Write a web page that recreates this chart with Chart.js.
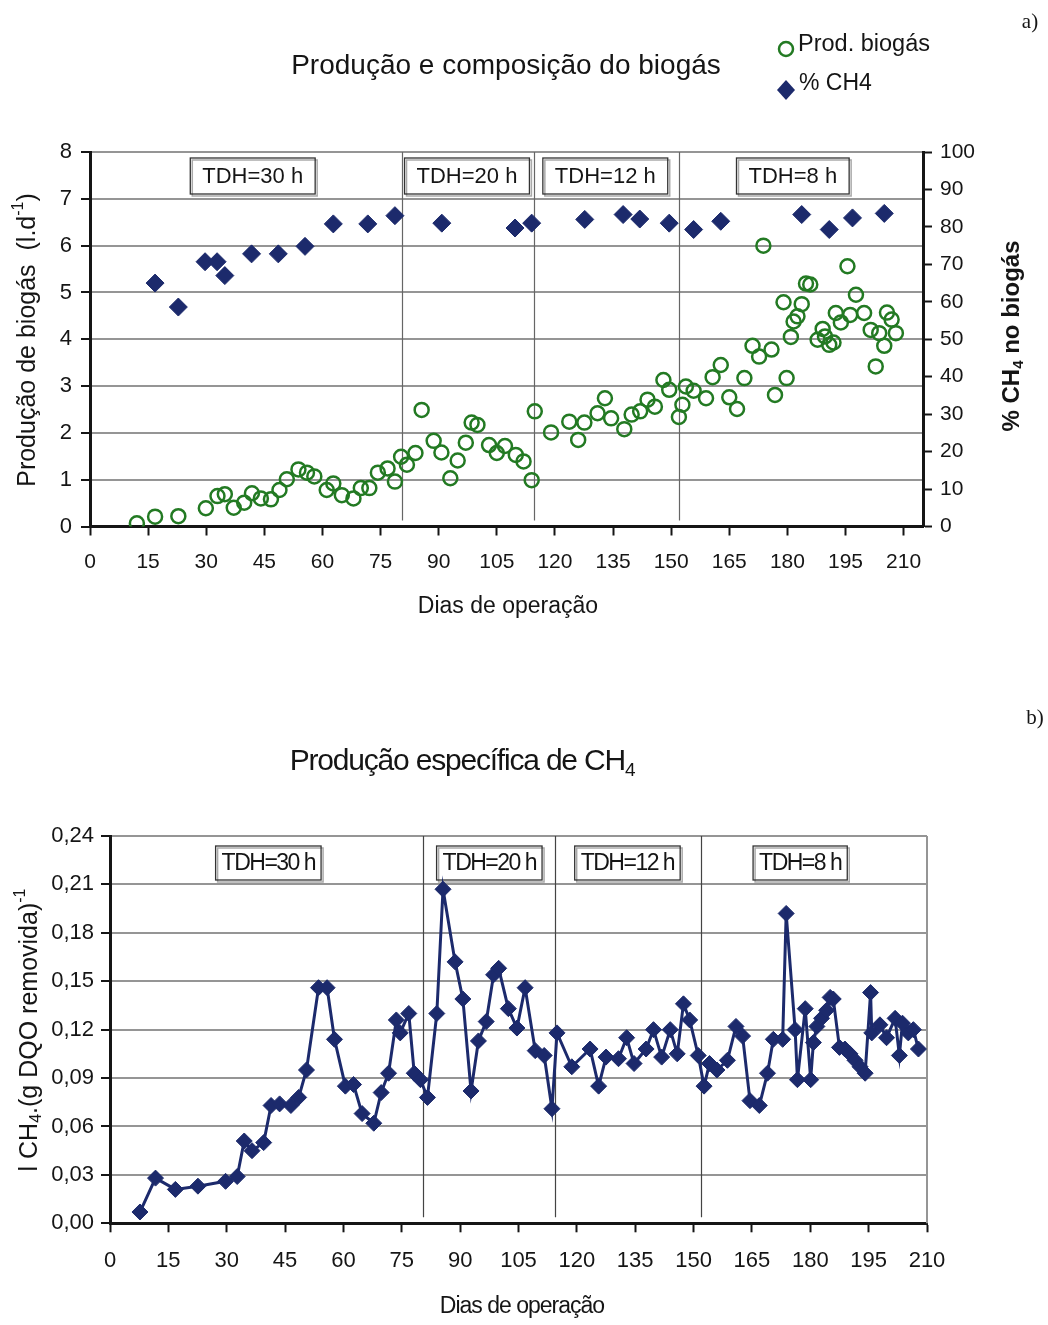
<!DOCTYPE html>
<html>
<head>
<meta charset="utf-8">
<script src="https://cdn.jsdelivr.net/npm/chart.js@4.4.1/dist/chart.umd.min.js"></script>
<style>
  html, body { margin: 0; padding: 0; background: #fff; }
  #wrap { position: relative; width: 1048px; height: 1325px; }
  canvas { position: absolute; left: 0; }
  #biogasChart { top: 0; }
  #ch4Chart { top: 650px; }
</style>
</head>
<body>
<div id="wrap">
  <canvas id="biogasChart" width="1048" height="650"></canvas>
  <canvas id="ch4Chart" width="1048" height="675"></canvas>
</div>
<script>
// biogas production (l/d) by day of operation
const prodDays = [12.1, 16.8, 22.8, 29.9, 32.9, 34.8, 37.1, 39.8, 41.8, 44.1, 46.7, 48.9, 50.8, 53.8, 56.0, 57.9,
  61.1, 62.8, 65.0, 68.0, 69.9, 72.1, 74.3, 76.8, 78.7, 80.3, 81.8, 84.0, 85.6, 88.7, 90.7, 93.0, 94.9, 97.0,
  98.5, 100.0, 103.0, 105.0, 107.1, 109.9, 111.9, 114.0, 114.8, 119.0, 123.7, 126.0, 127.6, 131.0, 132.9, 134.5,
  137.9, 139.8, 142.0, 143.9, 145.8, 148.0, 149.5, 152.0, 152.9, 153.8, 155.8, 159.0, 160.7, 162.8, 165.0, 167.0,
  168.9, 171.0, 172.7, 173.8, 175.9, 176.8, 179.0, 179.8, 180.9, 181.6, 182.6, 183.7, 184.8, 185.9, 187.8, 189.1,
  189.7, 190.8, 191.9, 192.5, 193.8, 195.5, 196.2, 197.7, 199.8, 201.5, 202.8, 203.7, 205.0, 205.7, 206.9, 208.0];
const prodValues = [0.07, 0.21, 0.22, 0.39, 0.65, 0.69, 0.40, 0.51, 0.71, 0.60, 0.58, 0.78, 1.01, 1.22, 1.15, 1.07,
  0.78, 0.92, 0.67, 0.60, 0.82, 0.82, 1.15, 1.24, 0.96, 1.49, 1.32, 1.57, 2.49, 1.83, 1.58, 1.03, 1.41, 1.79,
  2.22, 2.17, 1.74, 1.57, 1.72, 1.53, 1.39, 0.99, 2.46, 2.01, 2.24, 1.85, 2.22, 2.42, 2.74, 2.31,
  2.08, 2.39, 2.46, 2.71, 2.56, 3.13, 2.92, 2.34, 2.60, 2.99, 2.90, 2.74, 3.19, 3.45, 2.76, 2.51,
  3.17, 3.86, 3.63, 6.00, 3.78, 2.81, 4.79, 3.17, 4.05, 4.38, 4.49, 4.75, 5.19, 5.17, 3.99, 4.22,
  4.06, 3.88, 3.93, 4.56, 4.36, 5.56, 4.52, 4.95, 4.56, 4.20, 3.42, 4.13, 3.86, 4.57, 4.42, 4.13];

// methane content of the biogas (%)
const ch4Days = [16.8, 22.8, 29.7, 32.8, 34.8, 41.7, 48.6, 55.5, 62.8, 71.7, 78.7, 90.8, 109.7, 114.0,
  127.7, 137.6, 141.9, 149.5, 155.8, 162.8, 183.7, 190.8, 196.8, 205.0];
const ch4Pct = [65.0, 58.6, 70.7, 70.7, 67.0, 72.8, 72.8, 74.8, 80.8, 80.8, 83.0, 81.0, 79.7, 81.0,
  82.0, 83.3, 82.1, 81.0, 79.3, 81.5, 83.3, 79.3, 82.4, 83.6];

// specific CH4 production, l CH4 per g COD removed
const yieldDays = [7.7, 11.7, 16.8, 22.6, 29.7, 32.7, 34.5, 36.5, 39.5, 41.4, 43.6, 46.5, 48.5, 50.5, 53.6, 55.8,
  57.7, 60.5, 62.6, 64.8, 67.8, 69.7, 71.6, 73.6, 74.6, 76.8, 78.2, 79.8, 81.6, 84.0, 85.6, 88.7, 90.7, 92.8,
  94.7, 96.7, 98.6, 99.9, 102.4, 104.6, 106.7, 109.3, 111.6, 113.6, 114.9, 118.7, 123.4, 125.6, 127.5, 130.7,
  132.8, 134.7, 137.8, 139.7, 141.8, 144.0, 145.8, 147.4, 149.0, 151.2, 152.7, 154.1, 156.0, 158.7, 160.9, 162.6,
  164.5, 166.9, 169.0, 170.5, 172.9, 173.8, 176.1, 176.7, 178.7, 180.1, 180.8, 181.7, 182.9, 184.2, 185.1, 185.9,
  187.5, 188.9, 190.2, 191.5, 192.8, 194.1, 195.5, 195.8, 197.9, 199.6, 201.8, 202.9, 203.7, 205.2, 206.5, 207.8];
const yieldValues = [0.007, 0.028, 0.021, 0.023, 0.026, 0.029, 0.051, 0.045, 0.050, 0.073, 0.074, 0.073, 0.078, 0.095, 0.146, 0.146,
  0.114, 0.085, 0.086, 0.068, 0.062, 0.081, 0.093, 0.126, 0.118, 0.130, 0.093, 0.089, 0.078, 0.130, 0.207, 0.162, 0.139, 0.082,
  0.113, 0.125, 0.154, 0.158, 0.133, 0.121, 0.146, 0.107, 0.104, 0.071, 0.118, 0.097, 0.108, 0.085, 0.103, 0.102,
  0.115, 0.099, 0.108, 0.120, 0.103, 0.120, 0.105, 0.136, 0.126, 0.104, 0.085, 0.099, 0.095, 0.101, 0.122, 0.116,
  0.076, 0.073, 0.093, 0.114, 0.114, 0.192, 0.120, 0.089, 0.133, 0.089, 0.112, 0.122, 0.127, 0.132, 0.140, 0.139,
  0.109, 0.108, 0.105, 0.101, 0.097, 0.093, 0.143, 0.118, 0.123, 0.115, 0.127, 0.104, 0.124, 0.118, 0.120, 0.108];

// hydraulic retention time phases
const phaseLabels = ['TDH=30 h', 'TDH=20 h', 'TDH=12 h', 'TDH=8 h'];
const phaseEnds = [80.5, 114.5, 152];
const biogasLabelDays = [42, 97.3, 133, 181.4];
const yieldLabelDays = [40.7, 97.5, 133, 177.4];
const dayTicks = [0, 15, 30, 45, 60, 75, 90, 105, 120, 135, 150, 165, 180, 195, 210];

const FONT = '"Liberation Sans", Arial, Helvetica, sans-serif';
const NAVY = '#1c2a6c';
const GREEN = '#237a23';
const GRID = '#959595';
const INK = '#151515';

Chart.defaults.font.family = FONT;
Chart.defaults.color = INK;

const toPoints = (xs, ys) => xs.map((x, i) => ({ x: x, y: ys[i] }));

// text with sub/superscript pieces, centred on (x, y), optionally turned upright
function drawRich(ctx, parts, x, y, size, opts) {
  opts = opts || {};
  const weight = opts.weight || 'normal';
  const fontFor = p => `${weight} ${p.s ? Math.round(size * 0.62) : size}px ${FONT}`;
  ctx.save();
  ctx.translate(x, y);
  if (opts.vertical) ctx.rotate(-Math.PI / 2);
  ctx.letterSpacing = opts.spacing || '0px';
  ctx.fillStyle = INK;
  ctx.textBaseline = 'middle';
  ctx.textAlign = 'left';
  let total = 0;
  parts.forEach(p => { ctx.font = fontFor(p); p.w = ctx.measureText(p.t).width; total += p.w; });
  let cx = opts.align === 'left' ? 0 : -total / 2;
  parts.forEach(p => {
    ctx.font = fontFor(p);
    const dy = p.s === 'sup' ? -size * 0.36 : p.s === 'sub' ? size * 0.28 : 0;
    ctx.fillText(p.t, cx, dy);
    cx += p.w;
  });
  ctx.restore();
}

function drawPhases(chart, labelDays, box) {
  const { ctx, chartArea: a, scales: { x } } = chart;
  ctx.save();
  ctx.strokeStyle = box.line;
  ctx.lineWidth = 1.2;
  phaseEnds.forEach(d => {
    const px = Math.round(x.getPixelForValue(d)) + 0.5;
    ctx.beginPath();
    ctx.moveTo(px, a.top);
    ctx.lineTo(px, a.bottom - 6);
    ctx.stroke();
  });
  ctx.font = `${box.size}px ${FONT}`;
  ctx.letterSpacing = box.spacing;
  phaseLabels.forEach((label, i) => {
    const cx = x.getPixelForValue(labelDays[i]);
    const w = ctx.measureText(label).width + box.pad * 2;
    const top = a.top + box.top;
    ctx.fillStyle = '#fff';
    ctx.fillRect(cx - w / 2, top, w, box.h);
    ctx.strokeStyle = '#aaa';
    ctx.lineWidth = 1.5;
    ctx.strokeRect(cx - w / 2 + 2, top + 2, w, box.h);
    ctx.strokeStyle = '#333';
    ctx.lineWidth = 1.3;
    ctx.strokeRect(cx - w / 2, top, w, box.h);
    ctx.fillStyle = INK;
    ctx.textAlign = 'center';
    ctx.textBaseline = 'middle';
    ctx.fillText(label, cx, top + box.h / 2 + 1);
  });
  ctx.restore();
}

// ---- a) biogas production and composition ----
new Chart(document.getElementById('biogasChart'), {
  type: 'scatter',
  data: {
    datasets: [
      {
        label: 'Prod. biogás',
        data: toPoints(prodDays, prodValues),
        yAxisID: 'y',
        pointStyle: 'circle',
        pointRadius: 7,
        pointBorderWidth: 2.5,
        pointBorderColor: GREEN,
        pointBackgroundColor: 'rgba(0,0,0,0)'
      },
      {
        label: '% CH4',
        data: toPoints(ch4Days, ch4Pct),
        yAxisID: 'y1',
        pointStyle: 'rectRot',
        pointRadius: 9,
        pointBorderWidth: 1,
        pointBorderColor: NAVY,
        pointBackgroundColor: NAVY
      }
    ]
  },
  options: {
    responsive: false,
    animation: false,
    layout: { padding: { top: 152, left: 0, right: 0, bottom: 0 } },
    plugins: { legend: { display: false }, title: { display: false }, tooltip: { enabled: false } },
    scales: {
      x: {
        type: 'linear', min: 0, max: 215,
        // axis runs a little past day 210, but the labels stop there
        afterBuildTicks: s => { s.ticks = dayTicks.map(v => ({ value: v })); },
        afterFit: s => { s.height = 123.5; },
        ticks: { stepSize: 15, padding: 14, font: { size: 21 }, maxRotation: 0, autoSkip: false },
        grid: { drawOnChartArea: false, tickLength: 9, tickColor: INK, tickWidth: 2 },
        border: { color: INK, width: 3 }
      },
      y: {
        position: 'left', min: 0, max: 8,
        afterFit: s => { s.width = 90; },
        ticks: { stepSize: 1, padding: 9, font: { size: 22 } },
        grid: { color: GRID, lineWidth: 2, tickLength: 9, tickColor: INK, tickWidth: 2 },
        border: { color: INK, width: 3 }
      },
      y1: {
        position: 'right', min: 0, max: 100,
        afterFit: s => { s.width = 125; },
        ticks: { stepSize: 10, padding: 8, font: { size: 21 } },
        grid: { drawOnChartArea: false, tickLength: 9, tickColor: INK, tickWidth: 2 },
        border: { color: INK, width: 3 }
      }
    }
  },
  plugins: [{
    id: 'biogasDecor',
    beforeDatasetsDraw(chart) {
      drawPhases(chart, biogasLabelDays, { line: '#666', size: 22, spacing: '0px', pad: 12, top: 6, h: 36 });
    },
    afterDraw(chart) {
      const ctx = chart.ctx;
      drawRich(ctx, [{ t: 'Produção e composição do biogás' }], 506, 66, 28);
      drawRich(ctx, [{ t: 'Produção de biogás  (l.d' }, { t: '-1', s: 'sup' }, { t: ')' }], 28, 340, 25, { vertical: true });
      drawRich(ctx, [{ t: '% CH' }, { t: '4', s: 'sub' }, { t: ' no biogás' }], 1012, 336, 24, { vertical: true, weight: 'bold' });
      drawRich(ctx, [{ t: 'Dias de operação' }], 508, 607, 23);

      // legend
      ctx.save();
      ctx.strokeStyle = GREEN;
      ctx.lineWidth = 2.5;
      ctx.beginPath();
      ctx.arc(786, 49, 7, 0, Math.PI * 2);
      ctx.stroke();
      ctx.fillStyle = NAVY;
      ctx.beginPath();
      ctx.moveTo(786, 80); ctx.lineTo(795, 90); ctx.lineTo(786, 100); ctx.lineTo(777, 90);
      ctx.closePath();
      ctx.fill();
      ctx.restore();
      drawRich(ctx, [{ t: 'Prod. biogás' }], 798, 45, 23.5, { align: 'left' });
      drawRich(ctx, [{ t: '% CH4' }], 799, 84, 23, { align: 'left' });

      ctx.save();
      ctx.font = `21px "Liberation Serif", "Times New Roman", serif`;
      ctx.fillStyle = INK;
      ctx.textAlign = 'center';
      ctx.textBaseline = 'middle';
      ctx.fillText('a)', 1030, 22);
      ctx.restore();
    }
  }]
});

// ---- b) specific methane production ----
new Chart(document.getElementById('ch4Chart'), {
  type: 'line',
  data: {
    datasets: [{
      label: 'Produção específica de CH4',
      data: toPoints(yieldDays, yieldValues),
      borderColor: NAVY,
      borderWidth: 3,
      tension: 0,
      pointStyle: 'rectRot',
      pointRadius: 8,
      pointBorderWidth: 1,
      pointBorderColor: NAVY,
      pointBackgroundColor: NAVY
    }]
  },
  options: {
    responsive: false,
    animation: false,
    layout: { padding: { top: 186, left: 0, right: 121, bottom: 0 } },
    plugins: { legend: { display: false }, title: { display: false }, tooltip: { enabled: false } },
    scales: {
      x: {
        type: 'linear', min: 0, max: 210,
        afterBuildTicks: s => { s.ticks = dayTicks.map(v => ({ value: v })); },
        afterFit: s => { s.height = 101.7; },
        ticks: { stepSize: 15, padding: 15, font: { size: 22 }, maxRotation: 0, autoSkip: false },
        grid: { drawOnChartArea: false, tickLength: 9, tickColor: INK, tickWidth: 2 },
        border: { color: INK, width: 3 }
      },
      y: {
        min: 0, max: 0.24,
        afterFit: s => { s.width = 110; },
        ticks: { stepSize: 0.03, padding: 7, font: { size: 22 }, callback: v => v.toFixed(2).replace('.', ',') },
        grid: { color: GRID, lineWidth: 2, tickLength: 9, tickColor: INK, tickWidth: 2 },
        border: { color: INK, width: 3 }
      }
    }
  },
  plugins: [{
    id: 'yieldDecor',
    beforeDatasetsDraw(chart) {
      const { ctx, chartArea: a } = chart;
      ctx.save();
      ctx.strokeStyle = GRID;
      ctx.lineWidth = 2;
      ctx.beginPath();
      ctx.moveTo(a.right, a.top);
      ctx.lineTo(a.right, a.bottom);
      ctx.stroke();
      ctx.restore();
      drawPhases(chart, yieldLabelDays, { line: '#444', size: 23, spacing: '-1.5px', pad: 6, top: 10, h: 34 });
    },
    afterDraw(chart) {
      const ctx = chart.ctx;
      drawRich(ctx, [{ t: 'Produção específica de CH' }, { t: '4', s: 'sub' }], 462, 112, 30, { spacing: '-1.2px' });
      drawRich(ctx, [{ t: 'l CH' }, { t: '4', s: 'sub' }, { t: '.(g DQO removida)' }, { t: '-1', s: 'sup' }], 30, 380, 25, { vertical: true });
      drawRich(ctx, [{ t: 'Dias de operação' }], 522, 657, 23, { spacing: '-1px' });
      ctx.save();
      ctx.font = `21px "Liberation Serif", "Times New Roman", serif`;
      ctx.fillStyle = INK;
      ctx.textAlign = 'center';
      ctx.textBaseline = 'middle';
      ctx.fillText('b)', 1035, 68);
      ctx.restore();
    }
  }]
});
</script>
</body>
</html>
